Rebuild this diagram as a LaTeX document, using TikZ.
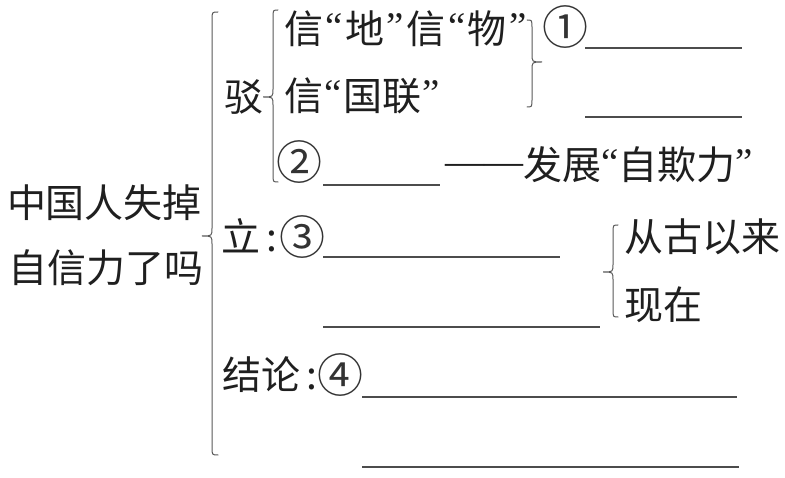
\documentclass[tikz,border=0pt]{standalone}
\usepackage{fontspec}
\setmainfont{Noto Sans CJK SC}
\newfontfamily\qtfont{Liberation Serif}
\newcommand{\oqt}{\raisebox{4pt}{\qtfont “}}
\newcommand{\cqt}{\raisebox{4pt}{\qtfont ”}}
\newcommand{\woqt}{\kern2.5pt\oqt\kern2.5pt}
\newcommand{\wcqt}{\kern2.5pt\cqt\kern2.5pt}
\newcommand{\dashes}{\raisebox{5pt}{\qtfont ——}}
\newcommand{\BrL}[6]{%
  \draw[bracestroke] ({#1+#6},#2) .. controls (#1,#2) .. (#1,{#2+8}) -- (#1,{#3-8})
    .. controls (#1,#3) .. ({#1-#5},#3) .. controls (#1,#3) .. (#1,{#3+8})
    -- (#1,{#4-8}) .. controls (#1,#4) .. ({#1+#6},#4);}
\newcommand{\BrR}[6]{%
  \draw[bracestroke] ({#1-#6},#2) .. controls (#1,#2) .. (#1,{#2+8}) -- (#1,{#3-8})
    .. controls (#1,#3) .. ({#1+#5},#3) .. controls (#1,#3) .. (#1,{#3+8})
    -- (#1,{#4-8}) .. controls (#1,#4) .. ({#1-#6},#4);}
\begin{document}
\begin{tikzpicture}[x=1pt,y=-1pt,
  txt/.style={inner sep=0pt, outer sep=0pt, anchor=west,
    font=\fontsize{39}{44}\selectfont, text height=34pt, text depth=5pt,
    text=black!88},
  circ/.style={inner sep=0pt, outer sep=0pt, anchor=center,
    font=\fontsize{46}{50}\selectfont, text=black!80},
  blank/.style={line width=1.4pt, draw=black!70},
  bracestroke/.style={line width=1pt, draw=black!65, line cap=round}]
\useasboundingbox[fill=white] (0,0) rectangle (785,478);
% texts
\node[txt] (q1) at (7,203) {中国人失掉};
\node[txt] (q2) at (9,268) {自信力了吗};
\node[txt] (bo) at (224,97) {驳};
\node[txt] (d1) at (284,29) {信\woqt 地\wcqt 信\woqt 物\wcqt};
\node[txt] (d2) at (284,96) {信\kern1.5pt\oqt\kern1.5pt 国联\kern1.5pt\cqt};
\node[circ] (n1) at (565,27) {①};
\node[circ] (n2) at (299,162) {②};
\node[txt] (fz) at (445,165) {\dashes 发展\oqt 自欺力\cqt};
\node[txt] (li) at (221,237) {立\,:};
\node[circ] (n3) at (302,237) {③};
\node[txt] (cg) at (624,237) {从古以来};
\node[txt] (xz) at (624,305) {现在};
\node[txt] (jl) at (222,375) {结论\,:};
\node[circ] (n4) at (340,375) {④};
% braces
\BrL{212}{12}{236}{455}{10}{6}
\BrL{273}{10}{97}{182}{10}{5}
\BrR{532}{20}{62}{107}{10}{5}
\BrL{613}{225}{272}{317}{10}{5}
% blanks
\draw[blank] (585,48) -- (742,48);
\draw[blank] (585,117) -- (742,117);
\draw[blank] (323,185) -- (440,185);
\draw[blank] (323,257) -- (560,257);
\draw[blank] (323,327) -- (600,327);
\draw[blank] (362,397) -- (737,397);
\draw[blank] (362,467) -- (739,467);
\end{tikzpicture}
\end{document}
